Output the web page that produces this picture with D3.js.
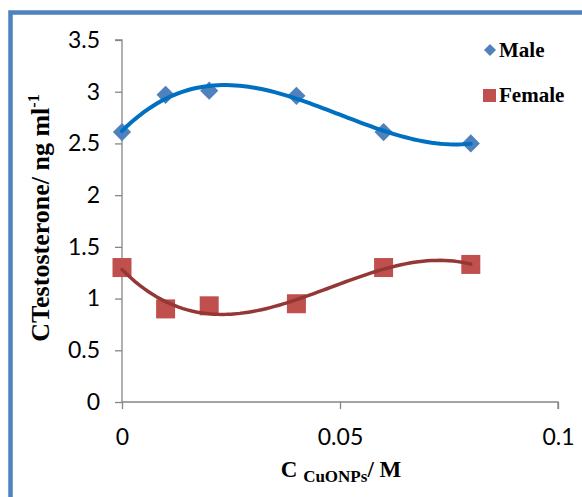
<!DOCTYPE html>
<html>
<head>
<meta charset="utf-8">
<script src="https://cdn.jsdelivr.net/npm/d3@7/dist/d3.min.js"></script>
<style>
  body { margin: 0; background: #fff; }
  svg { display: block; }
</style>
</head>
<body>
<svg id="chart"></svg>
<script>
// data
const concentrations = [0, 0.01, 0.02, 0.04, 0.06, 0.08];
const maleValues = [2.61, 2.97, 3.01, 2.96, 2.61, 2.50];
const femaleValues = [1.30, 0.90, 0.93, 0.95, 1.30, 1.33];
const xTicks = [0, 0.05, 0.1];
const yTicks = [0, 0.5, 1, 1.5, 2, 2.5, 3, 3.5];
const seriesNames = ['Male', 'Female'];

const width = 582, height = 497;
const svg = d3.select('#chart')
  .attr('width', width)
  .attr('height', height);

// frame (only left/top edges visible)
svg.append('path')
  .attr('d', 'M10.5,497 V12.5 H582')
  .attr('fill', 'none')
  .attr('stroke', '#4f81bd')
  .attr('stroke-width', 4.5);

const x = d3.scaleLinear().domain([0, 0.1]).range([122, 558]);
const y = d3.scaleLinear().domain([0, 3.5]).range([402, 40]);

const axisColor = '#868686';
const tickFont = 'Lato, "Open Sans", sans-serif';

// y axis
const yAxis = svg.append('g')
  .attr('transform', 'translate(122,0)')
  .call(d3.axisLeft(y).tickValues(yTicks).tickSize(7).tickPadding(15)
    .tickFormat(d => d3.format('')(d)));
yAxis.select('.domain').attr('stroke', axisColor).attr('stroke-width', 1.3)
  .attr('d', `M-7,${y(3.5)}H0V${y(0)}`);
yAxis.selectAll('.tick line').attr('stroke', axisColor).attr('stroke-width', 1.3);
yAxis.selectAll('.tick text')
  .attr('font-family', tickFont).attr('font-size', 23).attr('fill', '#000');

// x axis
const xAxis = svg.append('g')
  .attr('transform', `translate(0,${y(0)})`)
  .call(d3.axisBottom(x).tickValues(xTicks).tickSize(7).tickPadding(20)
    .tickFormat(d => d3.format('')(d)));
xAxis.select('.domain').attr('stroke', axisColor).attr('stroke-width', 1.3)
  .attr('d', `M${x(0)},0H${x(0.1)}V7`);
xAxis.selectAll('.tick line').attr('stroke', axisColor).attr('stroke-width', 1.3);
xAxis.selectAll('.tick text')
  .attr('font-family', tickFont).attr('font-size', 23).attr('fill', '#000');

// cubic least-squares trendline (like a spreadsheet polynomial trendline)
function polyFit(xs, ys, order) {
  const n = order + 1;
  const A = Array.from({length: n}, () => new Array(n + 1).fill(0));
  xs.forEach((xv, k) => {
    for (let i = 0; i < n; i++) {
      for (let j = 0; j < n; j++) A[i][j] += Math.pow(xv, i + j);
      A[i][n] += ys[k] * Math.pow(xv, i);
    }
  });
  for (let i = 0; i < n; i++) {
    let p = i;
    for (let r = i + 1; r < n; r++) if (Math.abs(A[r][i]) > Math.abs(A[p][i])) p = r;
    [A[i], A[p]] = [A[p], A[i]];
    for (let r = 0; r < n; r++) {
      if (r === i) continue;
      const f = A[r][i] / A[i][i];
      for (let c = i; c <= n; c++) A[r][c] -= f * A[i][c];
    }
  }
  const coef = A.map((row, i) => row[n] / row[i]);
  return xv => coef.reduce((s, c, i) => s + c * Math.pow(xv, i), 0);
}

const line = d3.line().x(d => x(d[0])).y(d => y(d[1]));
const samples = d3.range(0, 0.0801, 0.001);

function trend(values, color, w) {
  const f = polyFit(concentrations, values, 3);
  svg.append('path')
    .datum(samples.map(s => [s, f(s)]))
    .attr('fill', 'none')
    .attr('stroke', color)
    .attr('stroke-width', w)
    .attr('stroke-linecap', 'round')
    .attr('d', line);
}

const maleColor = '#4f81bd', femaleColor = '#c0504d';

// markers
svg.append('g').selectAll('path')
  .data(concentrations.map((c, i) => [c, maleValues[i]]))
  .join('path')
  .attr('d', d3.symbol().type(d3.symbolSquare).size(165))
  .attr('transform', d => `translate(${x(d[0])},${y(d[1])}) rotate(45)`)
  .attr('fill', maleColor);

svg.append('g').selectAll('rect')
  .data(concentrations.map((c, i) => [c, femaleValues[i]]))
  .join('rect')
  .attr('x', d => x(d[0]) - 9.5)
  .attr('y', d => y(d[1]) - 9.5)
  .attr('width', 19).attr('height', 19)
  .attr('fill', femaleColor);

trend(maleValues, '#0070c0', 4);
trend(femaleValues, '#953735', 3.5);

// legend
const serif = '"Liberation Serif", "Times New Roman", serif';
const leg = svg.append('g');
leg.append('path')
  .attr('d', d3.symbol().type(d3.symbolSquare).size(72))
  .attr('transform', 'translate(490,50) rotate(45)')
  .attr('fill', maleColor);
leg.append('rect').attr('x', 483).attr('y', 89).attr('width', 13).attr('height', 13)
  .attr('fill', femaleColor);
leg.selectAll('text')
  .data(seriesNames)
  .join('text')
  .attr('x', 499)
  .attr('y', (d, i) => 57 + i * 45)
  .attr('font-family', serif)
  .attr('font-weight', 'bold')
  .attr('font-size', 21)
  .text(d => d);

// axis titles
const yTitle = svg.append('text')
  .attr('transform', 'translate(49,218) rotate(-90)')
  .attr('text-anchor', 'middle')
  .attr('font-family', serif)
  .attr('font-weight', 'bold')
  .attr('font-size', 26);
yTitle.append('tspan').text('CTestosterone/ ng ml');
yTitle.append('tspan').attr('dy', -10).attr('font-size', 16).text('-1');

const xTitle = svg.append('text')
  .attr('x', 341)
  .attr('y', 477)
  .attr('text-anchor', 'middle')
  .attr('font-family', serif)
  .attr('font-weight', 'bold')
  .attr('font-size', 23);
xTitle.append('tspan').text('C ');
xTitle.append('tspan').attr('dy', 5).attr('font-size', 17).text('CuONPs');
xTitle.append('tspan').attr('dy', -5).text('/ M');
</script>
</body>
</html>
